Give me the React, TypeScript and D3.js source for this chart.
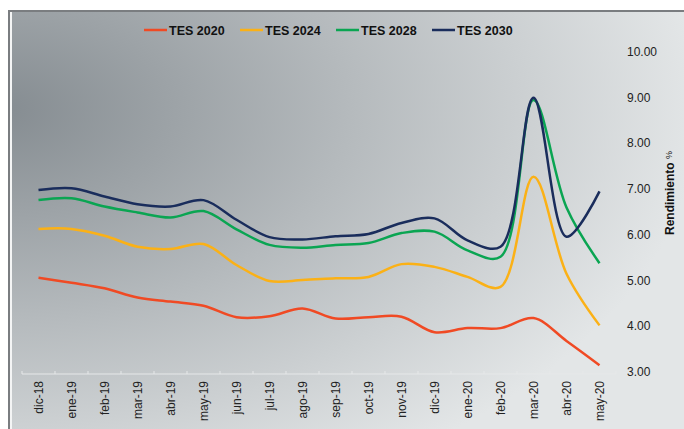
import React, { useEffect, useRef } from 'react';
import * as d3 from 'd3';

const categories = [
  'dic-18', 'ene-19', 'feb-19', 'mar-19', 'abr-19', 'may-19', 'jun-19', 'jul-19', 'ago-19',
  'sep-19', 'oct-19', 'nov-19', 'dic-19', 'ene-20', 'feb-20', 'mar-20', 'abr-20', 'may-20'
];

const tes2020 = [5.06, 4.95, 4.83, 4.63, 4.54, 4.45, 4.2, 4.22, 4.39, 4.17, 4.2, 4.21, 3.87, 3.96, 3.96, 4.18, 3.68, 3.15];
const tes2024 = [6.13, 6.13, 5.98, 5.74, 5.69, 5.8, 5.34, 4.99, 5.01, 5.05, 5.08, 5.36, 5.3, 5.08, 4.86, 7.27, 5.15, 4.02];
const tes2028 = [6.76, 6.8, 6.62, 6.49, 6.38, 6.52, 6.12, 5.78, 5.72, 5.78, 5.82, 6.04, 6.07, 5.66, 5.52, 8.95, 6.6, 5.38];
const tes2030 = [6.98, 7.02, 6.84, 6.67, 6.62, 6.76, 6.33, 5.95, 5.9, 5.97, 6.02, 6.26, 6.36, 5.88, 5.74, 9.0, 5.96, 6.95];

const seriesNames = ['TES 2020', 'TES 2024', 'TES 2028', 'TES 2030'];
const seriesColors = ['#f04a24', '#fbb116', '#0aa552', '#1a2d5c'];
const yTicks = [3, 4, 5, 6, 7, 8, 9, 10];

const width = 684;
const height = 429;

const App = () => {
  const container = useRef(null);

  useEffect(() => {
    const series = [tes2020, tes2024, tes2028, tes2030];
    const svg = d3
      .select(container.current)
      .selectAll('svg')
      .data([0])
      .join('svg')
      .attr('width', width)
      .attr('height', height)
      .style('display', 'block');

    svg.selectAll('*').remove();

    // background: dark in the upper left, fading out to the right and bottom
    const defs = svg.append('defs');
    const grad = defs
      .append('radialGradient')
      .attr('id', 'bg')
      .attr('gradientUnits', 'userSpaceOnUse')
      .attr('cx', 0)
      .attr('cy', 0)
      .attr('r', 700)
      .attr('gradientTransform', 'translate(0,110) scale(1,0.6)');
    grad.append('stop').attr('offset', 0).attr('stop-color', '#858c91');
    grad.append('stop').attr('offset', 0.5).attr('stop-color', '#b5babd');
    grad.append('stop').attr('offset', 1).attr('stop-color', '#e3e6e7');

    svg.append('rect').attr('width', width).attr('height', height).attr('fill', '#ffffff');
    // frame
    svg.append('rect').attr('x', 8).attr('y', 10).attr('width', width - 8).attr('height', height - 10).attr('fill', '#7a7d80');
    svg.append('rect').attr('x', 10).attr('y', 12).attr('width', width - 10).attr('height', height - 12).attr('fill', '#f4f5f5');
    svg.append('rect').attr('x', 12).attr('y', 12).attr('width', width - 12).attr('height', height - 12).attr('fill', 'url(#bg)');

    const x = d3.scaleBand().domain(categories).range([22, 616]);
    const y = d3.scaleLinear().domain([3, 10]).range([372, 52]);

    // x axis
    const axisY = 374;
    svg.append('line')
      .attr('x1', 22).attr('x2', 616).attr('y1', axisY).attr('y2', axisY)
      .attr('stroke', '#e6e8e9').attr('stroke-width', 1);
    svg.selectAll('.xtick')
      .data(categories.concat(['end']))
      .join('line')
      .attr('class', 'xtick')
      .attr('x1', (d, i) => 22 + i * x.bandwidth())
      .attr('x2', (d, i) => 22 + i * x.bandwidth())
      .attr('y1', axisY - 3)
      .attr('y2', axisY)
      .attr('stroke', '#e6e8e9');

    svg.selectAll('.xlabel')
      .data(categories)
      .join('text')
      .attr('class', 'xlabel')
      .attr('transform', d => `translate(${x(d) + x.bandwidth() / 2 + 4},381)rotate(-90)`)
      .attr('text-anchor', 'end')
      .style('font-family', 'Arial, "Liberation Sans", sans-serif')
      .style('font-size', '12px')
      .attr('fill', '#222')
      .text(d => d);

    // y axis labels (right)
    svg.selectAll('.ylabel')
      .data(yTicks)
      .join('text')
      .attr('class', 'ylabel')
      .attr('x', 627)
      .attr('y', d => y(d) + 4)
      .style('font-family', 'Arial, "Liberation Sans", sans-serif')
      .style('font-size', '12px')
      .attr('fill', '#222')
      .text(d => d.toFixed(2));

    const ytitle = svg.append('text')
      .attr('transform', 'translate(674,193)rotate(-90)')
      .attr('text-anchor', 'middle')
      .style('font-family', 'Arial, "Liberation Sans", sans-serif')
      .attr('fill', '#111');
    ytitle.append('tspan').style('font-size', '12px').style('font-weight', 'bold').text('Rendimiento ');
    ytitle.append('tspan').style('font-size', '9px').attr('dy', -2).text('%');

    // lines
    const line = d3
      .line<number>()
      .x((d, i) => x(categories[i]) + x.bandwidth() / 2)
      .y(d => y(d))
      .curve(d3.curveCatmullRom.alpha(0.5));

    svg.selectAll('.series-line')
      .data(series)
      .join('path')
      .attr('class', 'series-line')
      .attr('d', d => line(d))
      .attr('fill', 'none')
      .attr('stroke', (d, i) => seriesColors[i])
      .attr('stroke-width', 2.5)
      .attr('stroke-linejoin', 'round');

    // legend
    const legendX = [144, 240, 336, 432];
    const legend = svg.selectAll('.legend')
      .data(seriesNames)
      .join('g')
      .attr('class', 'legend')
      .attr('transform', (d, i) => `translate(${legendX[i]},30)`);
    legend.append('line')
      .attr('x1', 0).attr('x2', 23).attr('y1', 0).attr('y2', 0)
      .attr('stroke', (d, i) => seriesColors[i])
      .attr('stroke-width', 2.5);
    legend.append('text')
      .attr('x', 25)
      .attr('y', 4.5)
      .style('font-family', 'Arial, "Liberation Sans", sans-serif')
      .style('font-size', '12.5px')
      .style('font-weight', 'bold')
      .attr('fill', '#111')
      .text(d => d);
  }, []);

  return <div ref={container} style={{ position: 'absolute', left: 0, top: 0 }}></div>;
};

export default App;
